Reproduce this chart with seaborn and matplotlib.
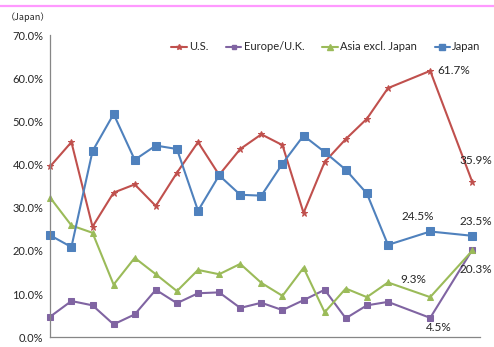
import matplotlib
matplotlib.use("Agg")
import matplotlib.pyplot as plt
import matplotlib.lines as mlines
import seaborn as sns
import pandas as pd

# Half-year periods (last two observations are annual)
periods = [0, 1, 2, 3, 4, 5, 6, 7, 8, 9, 10, 11, 12, 13, 14, 15, 16, 18, 20]

us = [39.6, 45.2, 25.6, 33.5, 35.4, 30.4, 38.1, 45.2, 37.6, 43.6,
      47.0, 44.5, 28.8, 40.6, 45.9, 50.6, 57.7, 61.7, 35.9]
europe = [4.8, 8.4, 7.4, 3.0, 5.3, 11.0, 7.9, 10.2, 10.4, 6.8,
          8.0, 6.3, 8.6, 11.0, 4.4, 7.4, 8.2, 4.5, 20.3]
asia = [32.3, 25.9, 24.2, 12.2, 18.4, 14.6, 10.7, 15.6, 14.6, 17.0,
        12.6, 9.6, 16.1, 5.8, 11.3, 9.3, 12.7, 9.3, 20.1]
japan = [23.6, 20.9, 43.1, 51.7, 41.1, 44.4, 43.6, 29.3, 37.5, 33.0,
         32.8, 40.2, 46.7, 42.9, 38.8, 33.3, 21.4, 24.5, 23.5]

series_names = ["U.S.", "Europe/U.K.", "Asia excl. Japan", "Japan"]
yticks = [0, 10, 20, 30, 40, 50, 60, 70]

sns.set_style("white")
plt.rcParams["font.family"] = ["Lato", "DejaVu Sans"]

df = pd.DataFrame({
    "period": periods * 4,
    "share": us + europe + asia + japan,
    "region": sum([[n] * len(periods) for n in series_names], []),
})

styles = {
    "U.S.": dict(color="#C0504D", marker="*", ms=5.0),
    "Europe/U.K.": dict(color="#8064A2", marker="s", ms=4.2),
    "Asia excl. Japan": dict(color="#9BBB59", marker="^", ms=5.0),
    "Japan": dict(color="#4F81BD", marker="s", ms=5.4),
}

fig = plt.figure(figsize=(4.94, 3.47), dpi=100)
ax = fig.add_axes([50.3 / 494, 1 - 337.3 / 347, (480 - 50.3) / 494, (337.3 - 35) / 347])

handles = []
for name in series_names:
    st = styles[name]
    sub = df[df["region"] == name]
    sns.lineplot(data=sub, x="period", y="share", ax=ax, color=st["color"],
                 marker=st["marker"], markersize=st["ms"], markeredgecolor=st["color"],
                 linewidth=1.5, legend=False)
    handles.append(mlines.Line2D([], [], color=st["color"], marker=st["marker"],
                                 markersize=st["ms"] - 1, linewidth=1.5,
                                 markeredgecolor=st["color"], label=name))

ax.set_xlim(0, 20.36)
ax.set_ylim(0, 70)
ax.set_xticks(range(0, 21, 2))
ax.set_xticklabels([])
ax.set_yticks(yticks)
ax.set_yticklabels([f"{v:.1f}%" for v in yticks], fontsize=8, color="#262626")
ax.set_xlabel("")
ax.set_ylabel("")
ax.grid(False)
for side in ["top", "right"]:
    ax.spines[side].set_visible(False)
for side in ["left", "bottom"]:
    ax.spines[side].set_color("#868686")
    ax.spines[side].set_linewidth(0.9)
ax.tick_params(axis="both", direction="out", length=3, width=0.8, color="#868686", pad=2)
for ln in ax.lines:
    ln.set_clip_on(False)

# Value labels on the latest observations
labels = [
    (18, us[17], "61.7%", (5, 0), "left", "center"),
    (20, us[18], "35.9%", (2.5, 12), "center", "bottom"),
    (18, japan[17], "24.5%", (-9, 7), "center", "bottom"),
    (20, japan[18], "23.5%", (2.5, 6), "center", "bottom"),
    (18, asia[17], "9.3%", (-12, 9), "center", "bottom"),
    (18, europe[17], "4.5%", (6, -3), "center", "top"),
    (20, europe[18], "20.3%", (2.5, -10), "center", "top"),
]
for x, y, txt, off, ha, va in labels:
    ax.annotate(txt, (x, y), xytext=off, textcoords="offset points",
                ha=ha, va=va, fontsize=8.5, color="#262626", annotation_clip=False)

fig.legend(handles=handles, loc="center left", bbox_to_anchor=(161 / 494, 1 - 47 / 347),
           ncol=4, frameon=False, fontsize=8, handlelength=1.4, handletextpad=0.2,
           columnspacing=1.6, labelcolor="#262626")

fig.text(6 / 494, 1 - 17 / 347, "（Japan）", fontsize=6.5, color="#262626",
         ha="left", va="center", family=["Noto Sans CJK JP", "DejaVu Sans"])

fig.add_artist(mlines.Line2D([0, 1], [1 - 6 / 347, 1 - 6 / 347], color="#FF99FF",
                             linewidth=1.6, transform=fig.transFigure))

fig.savefig("out.png", dpi=100)
